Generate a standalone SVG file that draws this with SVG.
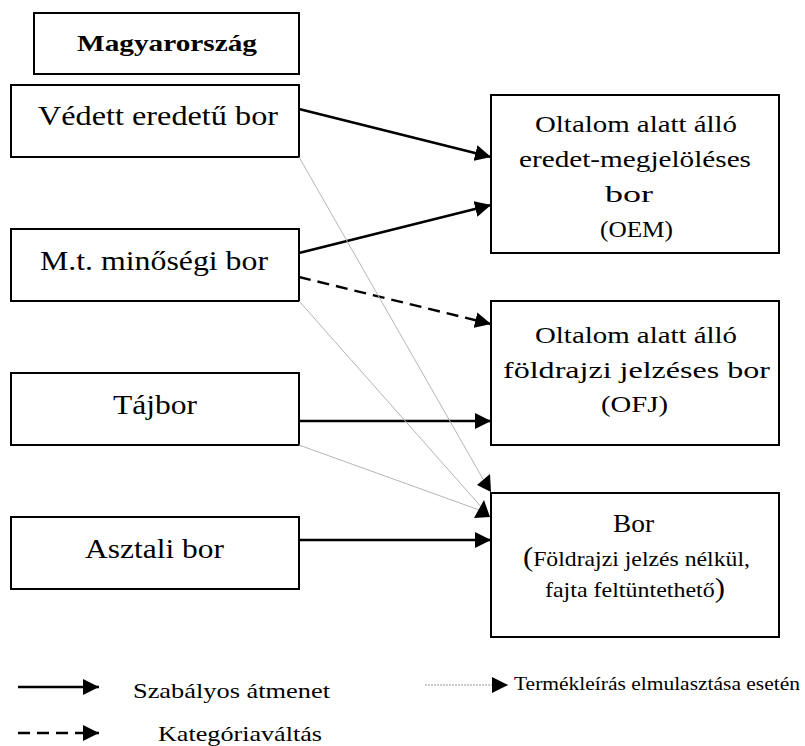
<svg xmlns="http://www.w3.org/2000/svg" width="805" height="746" viewBox="0 0 805 746">
<style>
.box{fill:#fff;stroke:#000;stroke-width:2}
text{font-family:'Liberation Serif','Times New Roman',Times,Tinos,'Nimbus Roman','Noto Serif','DejaVu Serif',FreeSerif,serif;fill:#000}
.solid{stroke:#000;stroke-width:2.6;fill:none}
.dash{stroke:#000;stroke-width:2.4;fill:none;stroke-dasharray:12 7}
.thin{stroke:#b4b4b4;stroke-width:1;fill:none}
.dot{stroke:#999;stroke-width:1;fill:none;stroke-dasharray:2 1}
</style>
<defs>
<marker id="ah" markerUnits="userSpaceOnUse" markerWidth="16" markerHeight="16" viewBox="0 0 16 16" refX="16" refY="8" orient="auto">
<path d="M0,0 L16,8 L0,16 Z" fill="#000"/>
</marker>
</defs>
<rect width="805" height="746" fill="#fff"/>
<g id="magyarorszag">
<rect class="box" x="34" y="13" width="265" height="61"/>
<text x="77" y="51" font-size="23" font-weight="bold" textLength="180" lengthAdjust="spacingAndGlyphs">Magyarország</text>
</g>
<g id="vedett">
<rect class="box" x="11" y="85" width="288" height="72"/>
<text x="38" y="125" font-size="27" textLength="240" lengthAdjust="spacingAndGlyphs">Védett eredetű bor</text>
</g>
<g id="mt">
<rect class="box" x="11" y="229" width="288" height="72"/>
<text x="40" y="270" font-size="27" textLength="228" lengthAdjust="spacingAndGlyphs">M.t. minőségi bor</text>
</g>
<g id="tajbor">
<rect class="box" x="11" y="373" width="288" height="72"/>
<text x="113" y="414" font-size="27" textLength="84" lengthAdjust="spacingAndGlyphs">Tájbor</text>
</g>
<g id="asztali">
<rect class="box" x="11" y="517" width="288" height="72"/>
<text x="85" y="558" font-size="27" textLength="139" lengthAdjust="spacingAndGlyphs">Asztali bor</text>
</g>

<g id="oem">
<rect class="box" x="491" y="95" width="288" height="158"/>
<text x="535" y="132" font-size="24" textLength="202" lengthAdjust="spacingAndGlyphs">Oltalom alatt álló</text>
<text x="519" y="167" font-size="24" textLength="232" lengthAdjust="spacingAndGlyphs">eredet-megjelöléses</text>
<text x="605" y="202" font-size="24" textLength="48" lengthAdjust="spacingAndGlyphs">bor</text>
<text x="600" y="237" font-size="24" textLength="73" lengthAdjust="spacingAndGlyphs">(OEM)</text>
</g>
<g id="ofj">
<rect class="box" x="491" y="301" width="288" height="144"/>
<text x="535" y="343" font-size="24" textLength="202" lengthAdjust="spacingAndGlyphs">Oltalom alatt álló</text>
<text x="503" y="378" font-size="24" textLength="267" lengthAdjust="spacingAndGlyphs">földrajzi jelzéses bor</text>
<text x="601" y="412" font-size="24" textLength="67" lengthAdjust="spacingAndGlyphs">(OFJ)</text>
</g>
<g id="bor">
<rect class="box" x="491" y="493" width="288" height="144"/>
<text x="613" y="532" font-size="26" textLength="41" lengthAdjust="spacingAndGlyphs">Bor</text>
<text x="523" y="566" textLength="227" lengthAdjust="spacingAndGlyphs"><tspan font-size="27">(</tspan><tspan font-size="21">Földrajzi jelzés nélkül,</tspan></text>
<text x="545" y="597" textLength="180" lengthAdjust="spacingAndGlyphs"><tspan font-size="21">fajta feltüntethető</tspan><tspan font-size="27">)</tspan></text>
</g>

<g id="connectors">
<line class="solid" x1="299" y1="109" x2="491" y2="157" marker-end="url(#ah)"/>
<line class="solid" x1="299" y1="253" x2="491" y2="205" marker-end="url(#ah)"/>
<line class="dash" x1="299" y1="277" x2="491" y2="324" marker-end="url(#ah)"/>
<line class="solid" x1="299" y1="421" x2="491" y2="421" marker-end="url(#ah)"/>
<line class="solid" x1="299" y1="540" x2="491" y2="540" marker-end="url(#ah)"/>
<line class="thin" x1="299" y1="157" x2="483" y2="479"/>
<polygon points="477,485 490,474 491,492" fill="#000"/>
<line class="thin" x1="299" y1="301" x2="484" y2="510"/>
<line class="thin" x1="299" y1="445" x2="482" y2="511"/>
<polygon points="474,518 484,500 490,517" fill="#000"/>
</g>

<g id="legend">
<line class="solid" x1="18" y1="687" x2="99" y2="687" marker-end="url(#ah)"/>
<text x="133" y="698" font-size="22" textLength="197" lengthAdjust="spacingAndGlyphs">Szabályos átmenet</text>
<line class="dash" x1="18" y1="733" x2="99" y2="733" stroke-dasharray="12 6" marker-end="url(#ah)"/>
<text x="158" y="741" font-size="22" textLength="164" lengthAdjust="spacingAndGlyphs">Kategóriaváltás</text>
<line class="dot" x1="425" y1="685" x2="508" y2="685" marker-end="url(#ah)"/>
<text x="514" y="690" font-size="18" textLength="286" lengthAdjust="spacingAndGlyphs">Termékleírás elmulasztása esetén</text>
</g>
</svg>
